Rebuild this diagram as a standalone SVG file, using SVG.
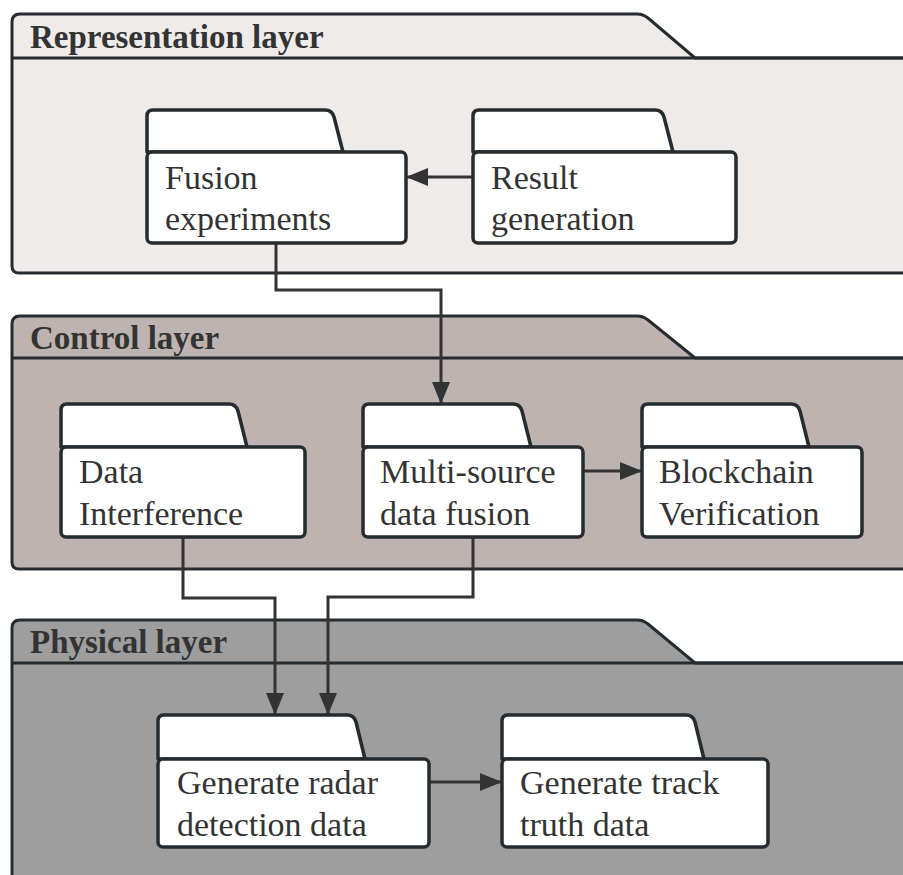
<svg xmlns="http://www.w3.org/2000/svg" width="903" height="875" viewBox="0 0 903 875">
  <style>
    .layer { stroke: #262b2f; stroke-width: 3; }
    .rep { fill: #eeebea; }
    .ctl { fill: #bdb3b0; }
    .phy { fill: #9e9e9e; }
    .sep { fill: none; stroke: #262b2f; stroke-width: 3; }
    text { font-family: "Liberation Serif", "Times New Roman", Times, Tinos, "Noto Serif", "DejaVu Serif", "Nimbus Roman", FreeSerif, serif; }
    .title { font-weight: bold; font-size: 33px; fill: #333333; }
    .box { fill: #ffffff; stroke: #262b2f; stroke-width: 3.5; stroke-linejoin: round; }
    .label { font-size: 34px; fill: #333333; }
    .edge { fill: none; stroke: #333333; stroke-width: 3; }
  </style>
  <defs>
    <marker id="arrow" markerUnits="userSpaceOnUse" markerWidth="22" markerHeight="18" refX="22" refY="9" orient="auto">
      <path d="M0,0 L22,9 L0,18 Z" fill="#333333"/>
    </marker>
  </defs>
  <rect width="903" height="875" fill="#ffffff"/>

  <!-- Layers -->
  <g id="layer-representation">
    <path class="layer rep" d="M12,22 Q12,14 20,14 H637 Q643,14 648,18 L695,58 H930 V273 H19 Q12,273 12,266 Z"/>
    <path class="sep" d="M12,58 H930"/>
    <text class="title" x="30" y="48">Representation layer</text>
  </g>
  <g id="layer-control">
    <path class="layer ctl" d="M12,324 Q12,316 20,316 H637 Q643,316 648,320 L695,358 H930 V569 H19 Q12,569 12,562 Z"/>
    <path class="sep" d="M12,358 H930"/>
    <text class="title" x="30" y="349">Control layer</text>
  </g>
  <g id="layer-physical">
    <path class="layer phy" d="M12,628 Q12,620 20,620 H637 Q643,620 648,624 L695,663 H930 V900 H12 Z"/>
    <path class="sep" d="M12,663 H930"/>
    <text class="title" x="30" y="653">Physical layer</text>
  </g>

  <!-- Connectors -->
  <g id="connectors">
    <path class="edge" d="M473,177 H406" marker-end="url(#arrow)"/>
    <path class="edge" d="M276,243 V290 H441 V404" marker-end="url(#arrow)"/>
    <path class="edge" d="M583,471 H642" marker-end="url(#arrow)"/>
    <path class="edge" d="M183,536 V598 H275 V715" marker-end="url(#arrow)"/>
    <path class="edge" d="M473,537 V597 H328 V715" marker-end="url(#arrow)"/>
    <path class="edge" d="M429,782 H502" marker-end="url(#arrow)"/>
  </g>

  <!-- Nodes -->
  <g id="fusion-experiments">
    <path class="box" d="M147,152 V116 Q147,110 153,110 H325 Q332,110 334,117 L343,152 Z"/>
    <rect class="box" x="147" y="152" width="259" height="91" rx="5"/>
    <text class="label" x="165" y="189">Fusion</text>
    <text class="label" x="165" y="230">experiments</text>
  </g>
  <g id="result-generation">
    <path class="box" d="M473,152 V116 Q473,110 479,110 H655 Q662,110 664,117 L673,152 Z"/>
    <rect class="box" x="473" y="152" width="263" height="91" rx="5"/>
    <text class="label" x="491" y="189">Result</text>
    <text class="label" x="491" y="230">generation</text>
  </g>
  <g id="data-interference">
    <path class="box" d="M61,447 V410 Q61,404 67,404 H229 Q236,404 238,411 L247,447 Z"/>
    <rect class="box" x="61" y="447" width="244" height="90" rx="5"/>
    <text class="label" x="79" y="483">Data</text>
    <text class="label" x="79" y="525">Interference</text>
  </g>
  <g id="multi-source-data-fusion">
    <path class="box" d="M363,447 V410 Q363,404 369,404 H513 Q520,404 522,411 L531,447 Z"/>
    <rect class="box" x="363" y="447" width="220" height="90" rx="5"/>
    <text class="label" x="380" y="483">Multi-source</text>
    <text class="label" x="380" y="525">data fusion</text>
  </g>
  <g id="blockchain-verification">
    <path class="box" d="M642,447 V410 Q642,404 648,404 H791 Q798,404 800,411 L809,447 Z"/>
    <rect class="box" x="642" y="447" width="220" height="90" rx="5"/>
    <text class="label" x="659" y="483">Blockchain</text>
    <text class="label" x="659" y="525">Verification</text>
  </g>
  <g id="generate-radar-detection-data">
    <path class="box" d="M158,759 V721 Q158,715 164,715 H347 Q354,715 356,722 L365,759 Z"/>
    <rect class="box" x="158" y="759" width="271" height="88" rx="5"/>
    <text class="label" x="177" y="794">Generate radar</text>
    <text class="label" x="177" y="836">detection data</text>
  </g>
  <g id="generate-track-truth-data">
    <path class="box" d="M502,759 V721 Q502,715 508,715 H686 Q693,715 695,722 L704,759 Z"/>
    <rect class="box" x="502" y="759" width="266" height="88" rx="5"/>
    <text class="label" x="520" y="794">Generate track</text>
    <text class="label" x="520" y="836">truth data</text>
  </g>
</svg>
